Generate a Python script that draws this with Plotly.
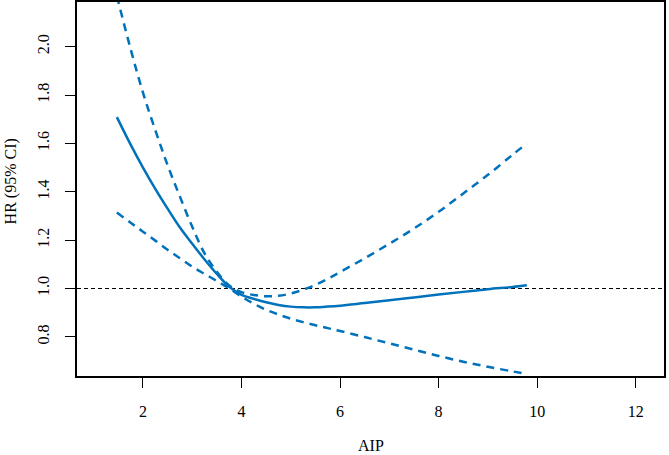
import plotly.graph_objects as go

# AIP values (x) and hazard ratios
aip = [1.47, 1.75, 2.0, 2.25, 2.5, 2.75, 3.0, 3.25, 3.5, 3.75, 4.0, 4.25, 4.5, 4.75,
       5.0, 5.25, 5.5, 5.75, 6.0, 6.5, 7.0, 7.5, 8.0, 8.5, 9.0, 9.5, 9.79]
hr = [1.709, 1.595, 1.5, 1.412, 1.33, 1.252, 1.185, 1.12, 1.06, 1.007, 0.974, 0.957, 0.943, 0.932,
      0.925, 0.922, 0.922, 0.925, 0.929, 0.94, 0.951, 0.963, 0.975, 0.986, 0.997, 1.006, 1.013]
upper = [2.21, 1.99, 1.81, 1.655, 1.51, 1.38, 1.255, 1.145, 1.069, 1.012, 0.985, 0.973, 0.968, 0.97,
         0.979, 0.995, 1.015, 1.04, 1.068, 1.125, 1.185, 1.248, 1.317, 1.393, 1.47, 1.553, 1.60]
lower = [1.314, 1.272, 1.235, 1.198, 1.16, 1.125, 1.09, 1.06, 1.031, 1.0, 0.966, 0.937, 0.912, 0.892,
         0.875, 0.861, 0.848, 0.836, 0.824, 0.799, 0.773, 0.747, 0.721, 0.697, 0.676, 0.657, 0.646]

x_ticks = [2, 4, 6, 8, 10, 12]
y_ticks = [0.8, 1.0, 1.2, 1.4, 1.6, 1.8, 2.0]
y_tick_text = ["0.8", "1.0", "1.2", "1.4", "1.6", "1.8", "2.0"]
ref_hr = 1.0

blue = "#0072BC"
font = "Times New Roman, Liberation Serif, Tinos, serif"
fsize = 16

fig = go.Figure()
fig.add_trace(go.Scatter(x=[0.661, 12.574], y=[ref_hr, ref_hr], mode="lines",
                         line=dict(color="black", width=1.2, dash="4px,3px"),
                         showlegend=False, hoverinfo="skip"))
fig.add_trace(go.Scatter(x=aip, y=upper, mode="lines", line_shape="spline",
                         line=dict(color=blue, width=2.5, dash="8px,6px"), showlegend=False))
fig.add_trace(go.Scatter(x=aip, y=lower, mode="lines", line_shape="spline",
                         line=dict(color=blue, width=2.5, dash="8px,6px"), showlegend=False))
fig.add_trace(go.Scatter(x=aip, y=hr, mode="lines", line_shape="spline",
                         line=dict(color=blue, width=2.5), showlegend=False))

fig.update_layout(
    template="none",
    width=669, height=455,
    margin=dict(l=77, r=5, t=2, b=79, autoexpand=False),
    paper_bgcolor="white", plot_bgcolor="white",
    font=dict(family=font, size=fsize, color="black"),
    xaxis=dict(range=[0.661, 12.574], tickvals=x_ticks, ticks="outside", ticklen=10,
               tickwidth=1.2, tickcolor="black", showgrid=False, zeroline=False,
               showline=True, mirror=True, linecolor="black", linewidth=1.5,
               automargin=False, ticklabelstandoff=10,
               tickfont=dict(family=font, size=fsize, color="black")),
    yaxis=dict(range=[0.638, 2.185], tickvals=y_ticks, ticktext=y_tick_text, ticks="outside",
               ticklen=10, tickwidth=1.2, tickcolor="black", showgrid=False, zeroline=False,
               showline=True, mirror=True, linecolor="black", linewidth=1.5,
               automargin=False, tickangle=-90, ticklabelstandoff=10,
               tickfont=dict(family=font, size=fsize, color="black")),
    annotations=[
        dict(text="AIP", xref="paper", yref="paper", x=0.5, y=-0.185,
             xanchor="center", yanchor="middle", showarrow=False,
             font=dict(family=font, size=fsize, color="black")),
        dict(text="HR (95% CI)", xref="paper", yref="paper", x=-0.112, y=0.521,
             xanchor="center", yanchor="middle", showarrow=False, textangle=-90,
             font=dict(family=font, size=fsize, color="black")),
    ],
)

fig.write_html("out.html", config={"displayModeBar": False},
               post_script="document.body.style.margin='0';document.body.style.padding='0';")
